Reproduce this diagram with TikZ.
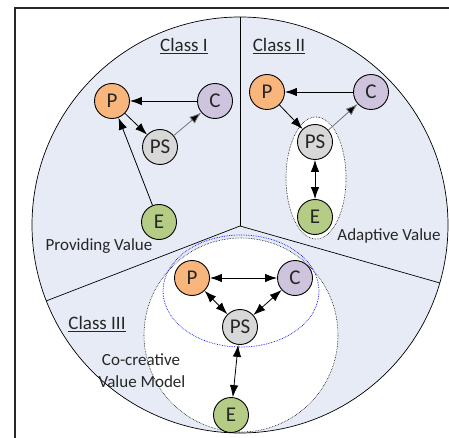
\documentclass[tikz,border=0pt]{standalone}
\usepackage{fontspec}
\setmainfont{Carlito}
\usetikzlibrary{arrows.meta}
\definecolor{bgblue}{RGB}{230,235,246}
\definecolor{porange}{RGB}{248,182,125}
\definecolor{clilac}{RGB}{206,196,222}
\definecolor{psgray}{RGB}{216,216,216}
\definecolor{egreen}{RGB}{180,204,134}
\begin{document}
\begin{tikzpicture}[x=1pt,y=-1pt,
    actor/.style={circle,draw,line width=0.9pt,minimum size=35pt,inner sep=0pt,font=\fontsize{21}{24}\selectfont,text=black!85},
    lbl/.style={font=\fontsize{17}{20}\selectfont,text=black!85},
    flow/.style={-{Latex[length=12pt,width=8.5pt]},line width=0.8pt},
    both/.style={{Latex[length=12pt,width=8.5pt]}-{Latex[length=12pt,width=8.5pt]},line width=0.8pt},
    grayflow/.style={flow,draw=black!55,-{Latex[length=12pt,width=8.5pt,fill=black]}}]
        \useasboundingbox (0,0) rectangle (449,438);
        % frame and sectors
        \draw[line width=2.5pt,black!85] (15,445) -- (15,8) -- (455,8);
        \draw[fill=bgblue,line width=0.7pt] (240,225) circle (208);
        \coordinate (mid) at (240,226);
        \draw[line width=0.7pt] (mid) -- (240,17);
        \draw[line width=0.7pt] (mid) -- (46,301);
        \draw[line width=0.7pt] (mid) -- (440,283);
        \draw[fill=white,densely dotted,line width=0.6pt] (241,335) circle (97);
        \draw[fill=white,densely dotted,line width=0.6pt] (316,178) ellipse (30 and 61);
        \draw[blue,densely dotted,line width=0.7pt] (241,291) ellipse (78 and 56);

        % Class I
        \node[lbl,font=\fontsize{19}{22}\selectfont] (t1) at (184,46) {\underline{Class I}};
        \node[actor,fill=porange] (p1) at (112,101) {P};
        \node[actor,fill=clilac] (c1) at (215,101) {C};
        \node[actor,fill=psgray] (ps1) at (160,147) {PS};
        \node[actor,fill=egreen] (e1) at (159,222) {E};
        \node[lbl] (v1) at (99,246) {Providing Value};
        \draw[flow] (c1) -- (p1);
        \draw[flow] (p1) -- (ps1);
        \draw[grayflow] (ps1) -- (c1);
        \draw[flow] (e1) -- (p1);

        % Class II
        \node[lbl,font=\fontsize{19}{22}\selectfont] (t2) at (279,46) {\underline{Class II}};
        \node[actor,fill=porange] (p2) at (267,92) {P};
        \node[actor,fill=clilac] (c2) at (371,92) {C};
        \node[actor,fill=psgray] (ps2) at (315,142) {PS};
        \node[actor,fill=egreen] (e2) at (315,217) {E};
        \node[lbl] (v2) at (389,236) {Adaptive Value};
        \draw[flow] (c2) -- (p2);
        \draw[flow] (p2) -- (ps2);
        \draw[grayflow] (ps2) -- (c2);
        \draw[both] (ps2) -- (e2);

        % Class III
        \node[lbl,font=\fontsize{19}{22}\selectfont] (t3) at (97,324) {\underline{Class III}};
        \node[lbl] (v3) at (141,360) {Co-creative};
        \node[lbl] (v4) at (142,382) {Value Model};
        \node[actor,fill=porange] (p3) at (192,278) {P};
        \node[actor,fill=clilac] (c3) at (295,278) {C};
        \node[actor,fill=psgray] (ps3) at (240,327) {PS};
        \node[actor,fill=egreen] (e3) at (231,415) {E};
        \draw[both] (p3) -- (c3);
        \draw[both] (p3) -- (ps3);
        \draw[both] (c3) -- (ps3);
        \draw[both] (ps3) -- (e3);
      \end{tikzpicture}
\end{document}
